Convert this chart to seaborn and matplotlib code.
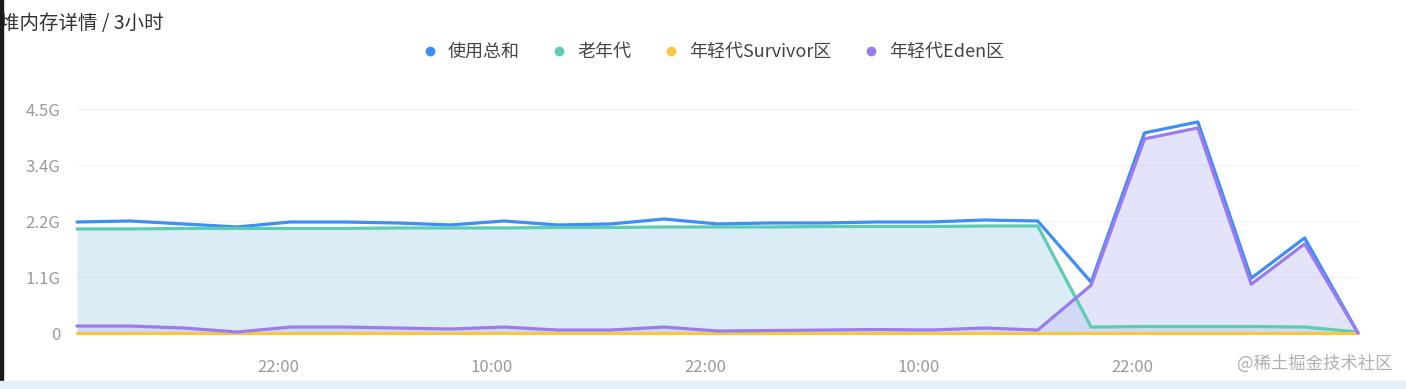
import numpy as np
import pandas as pd
import matplotlib
matplotlib.use("Agg")
import matplotlib.pyplot as plt
import seaborn as sns

# -------------------- DATA --------------------
# one sample every 3 hours, values in G
hours = [3 * i for i in range(25)]

total = [2.23, 2.25, 2.19, 2.13, 2.23, 2.23, 2.21, 2.17, 2.25, 2.17, 2.19, 2.29, 2.19,
         2.21, 2.21, 2.23, 2.23, 2.27, 2.25, 1.02, 4.02, 4.24, 1.10, 1.91, 0.0]
old_gen = [2.09, 2.09, 2.10, 2.10, 2.10, 2.10, 2.11, 2.11, 2.11, 2.12, 2.12, 2.13, 2.13,
           2.13, 2.14, 2.14, 2.14, 2.15, 2.15, 0.12, 0.13, 0.13, 0.13, 0.12, 0.02]
survivor = [0.01] * 25
eden = [0.14, 0.14, 0.10, 0.02, 0.12, 0.12, 0.10, 0.08, 0.12, 0.06, 0.06, 0.12, 0.04,
        0.05, 0.06, 0.07, 0.06, 0.10, 0.06, 0.96, 3.90, 4.12, 0.98, 1.79, 0.0]

series_names = ["使用总和", "老年代", "年轻代Survivor区", "年轻代Eden区"]
series_colors = ["#3d8ef8", "#5ccdb0", "#f7c744", "#9b7cf0"]

y_ticks = [0, 1.125, 2.25, 3.375, 4.5]
y_labels = ["0", "1.1G", "2.2G", "3.4G", "4.5G"]
x_ticks = [11.3, 23.3, 35.3, 47.3, 59.3]
x_labels = ["22:00", "10:00", "22:00", "10:00", "22:00"]

df = pd.DataFrame({
    "hour": hours * 4,
    "value": total + old_gen + survivor + eden,
    "series": sum([[n] * len(hours) for n in series_names], []),
})

# -------------------- PLOT --------------------
sns.set_style("white")
plt.rcParams["font.family"] = ["Noto Sans CJK SC", "DejaVu Sans"]

fig = plt.figure(figsize=(14.06, 3.89), dpi=100)
ax = fig.add_axes([77 / 1406, 1 - 333 / 389, (1358 - 77) / 1406, (333 - 109) / 389])

# area fills under old gen and eden
ax.fill_between(hours, old_gen, color="#b6dbec", alpha=0.5, lw=0, zorder=1)
ax.fill_between(hours, eden, color="#c9c8f6", alpha=0.5, lw=0, zorder=1)

sns.lineplot(data=df, x="hour", y="value", hue="series", hue_order=series_names,
             palette=series_colors, linewidth=2.3, ax=ax, legend=False, zorder=3)
for line in ax.get_lines():
    line.set_clip_on(False)

ax.set_xlim(0, 72)
ax.set_ylim(0, 4.5)
ax.set_yticks(y_ticks)
ax.set_yticklabels(y_labels)
ax.set_xticks(x_ticks)
ax.set_xticklabels(x_labels)
ax.tick_params(axis="both", length=0, labelsize=12, colors="#9a9a9a")
ax.tick_params(axis="x", pad=19)
ax.tick_params(axis="y", pad=12)
ax.set_xlabel("")
ax.set_ylabel("")
ax.grid(axis="y", color="#f2f2f2", lw=1)
for s in ax.spines.values():
    s.set_visible(False)

# legend
handles = [plt.Line2D([], [], marker="o", ls="", color=c, markersize=6) for c in series_colors]
fig.legend(handles, series_names, loc="center", bbox_to_anchor=(708 / 1406, 1 - 52 / 389),
           ncol=4, frameon=False, fontsize=13, handletextpad=0.0, columnspacing=1.2,
           labelcolor="#444444")

fig.text(0.0, 1 - 23 / 389, "堆内存详情 / 3小时", fontsize=14, color="#333333",
         va="center", ha="left")
fig.text(1392 / 1406, 1 - 364 / 389, "@稀土掘金技术社区", fontsize=12.5, color="#b0b0b0",
         va="center", ha="right")

# left dark border and bottom strip from the screenshot
fig.patches.append(plt.Rectangle((0, 0), 3 / 1406, 1, transform=fig.transFigure,
                                 color="#1a1a1a", zorder=5))
fig.patches.append(plt.Rectangle((0, 0), 1, 8 / 389, transform=fig.transFigure,
                                 color="#e4f0fb", zorder=5))

fig.savefig("out.png", dpi=100)
